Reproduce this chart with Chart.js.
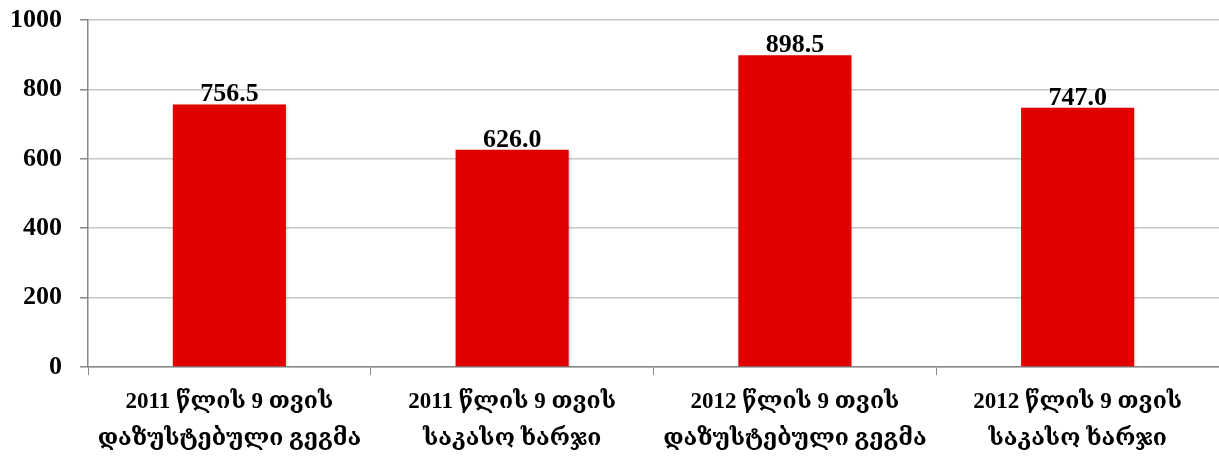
<!DOCTYPE html>
<html>
<head>
<meta charset="utf-8">
<script src="https://cdn.jsdelivr.net/npm/chart.js@4"></script>
<style>
  html, body { margin: 0; padding: 0; background: #fff; }
  #wrap { width: 1219px; height: 458px; }
</style>
</head>
<body>
<div id="wrap"><canvas id="chart" width="1219" height="458"></canvas></div>
<script>
const categories = [
    ['2011 წლის 9 თვის', 'დაზუსტებული გეგმა'],
    ['2011 წლის 9 თვის', 'საკასო ხარჯი'],
    ['2012 წლის 9 თვის', 'დაზუსტებული გეგმა'],
    ['2012 წლის 9 თვის', 'საკასო ხარჯი']
];
const values = [756.5, 626.0, 898.5, 747.0];
const yTicks = [0, 200, 400, 600, 800, 1000];

const FONT = "'Liberation Serif', 'DejaVu Serif', serif";

// value labels above each bar
const barLabels = {
    id: 'barLabels',
    afterDatasetsDraw(chart) {
        const ctx = chart.ctx;
        const meta = chart.getDatasetMeta(0);
        ctx.save();
        ctx.font = "bold 26px " + FONT;
        ctx.fillStyle = '#000';
        ctx.textAlign = 'center';
        ctx.textBaseline = 'alphabetic';
        meta.data.forEach((bar, i) => {
            ctx.fillText(values[i].toFixed(1), bar.x, bar.y - 3);
        });
        ctx.restore();
    }
};

// soft shadow under bars
const barShadow = {
    id: 'barShadow',
    beforeDatasetDraw(chart) {
        const ctx = chart.ctx;
        ctx.save();
        ctx.shadowColor = 'rgba(0,0,0,0.25)';
        ctx.shadowBlur = 3;
        ctx.shadowOffsetX = 1;
        ctx.shadowOffsetY = 1;
    },
    afterDatasetDraw(chart) {
        chart.ctx.restore();
    }
};

new Chart(document.getElementById('chart'), {
    type: 'bar',
    data: {
        labels: categories,
        datasets: [{
            data: values,
            backgroundColor: '#E00000',
            barPercentage: 0.4,
            categoryPercentage: 1.0
        }]
    },
    options: {
        responsive: false,
        animation: false,
        layout: { padding: { top: 20, right: 0, left: 0, bottom: 0 } },
        plugins: { legend: { display: false }, tooltip: { enabled: false } },
        scales: {
            x: {
                grid: { display: true, drawOnChartArea: false, drawTicks: true, tickLength: 8, color: '#888', offset: true },
                border: { color: '#888', width: 1.5 },
                ticks: {
                    color: '#000',
                    font: { family: FONT, size: 23, weight: 'bold', lineHeight: 1.6 },
                    maxRotation: 0,
                    padding: 9
                },
                afterFit(scale) { scale.height = 91; scale.paddingLeft = 0; scale.paddingRight = 0; }
            },
            y: {
                min: 0,
                max: 1000,
                afterBuildTicks(scale) { scale.ticks = yTicks.map(v => ({ value: v })); },
                grid: { color: '#c8c8c8', lineWidth: 1.5, tickLength: 8, tickColor: '#888' },
                border: { color: '#888', width: 1.5 },
                ticks: {
                    color: '#000',
                    font: { family: FONT, size: 26, weight: 'bold' },
                    padding: 18,
                    callback: v => String(v)
                },
                afterFit(scale) { scale.width = 88; scale.paddingTop = 0; scale.paddingBottom = 0; }
            }
        }
    },
    plugins: [barShadow, barLabels]
});
</script>
</body>
</html>
